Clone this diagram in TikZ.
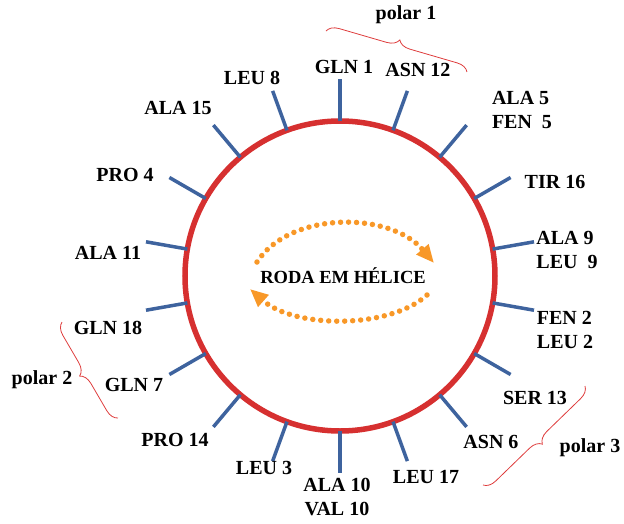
\documentclass[tikz,border=0pt]{standalone}
\usepackage{fontspec}
\setmainfont{Liberation Serif}
\usetikzlibrary{arrows.meta,decorations.pathreplacing}

\definecolor{wheelred}{RGB}{214,48,48}
\definecolor{tickblue}{RGB}{62,99,158}
\definecolor{dotorange}{RGB}{248,152,40}
\definecolor{bracered}{RGB}{222,60,60}

\tikzset{
  tick/.style={draw=tickblue, line width=3.5pt},
  dotarc/.style={draw=dotorange, line width=5.5pt, line cap=round,
    dash pattern=on 0pt off 8pt, -{Triangle[length=18pt,width=15pt]}},
  polarbrace/.style={draw=bracered, line width=0.8pt,
    decorate, decoration={brace, amplitude=12pt}}
}

\begin{document}
\begin{tikzpicture}[x=1pt, y=1pt, every node/.style={font=\bfseries\fontsize{20}{24}\selectfont}]
    \useasboundingbox (-340,-247) rectangle (284,276);
    % the wheel
    \node[draw=wheelred, line width=5.5pt, circle, minimum size=310pt, inner sep=0pt, outer sep=0pt] (wheel) at (0,0) {};
    \foreach \a in {10,30,...,350} {
        \coordinate (o\a) at (\a:197);
        \draw[tick] (wheel.\a) -- (o\a);
    }
    % residues
    \node (gln1) at (4,209) {GLN 1};
    \node (asn12) at (78,206) {ASN 12};
    \node[align=left] (ala5) at (182,166) {ALA 5\\FEN\ \ 5};
    \node (tir16) at (215,94) {TIR 16};
    \node[align=left] (ala9) at (227,26) {ALA 9\\LEU\ \ 9};
    \node[align=left] (fen2) at (225,-54) {FEN 2\\LEU 2};
    \node (ser13) at (195,-122) {SER 13};
    \node (asn6) at (151,-166) {ASN 6};
    \node (leu17) at (86,-201) {LEU 17};
    \node[align=center] (ala10) at (-3,-221) {ALA 10\\VAL 10};
    \node (leu3) at (-76,-192) {LEU 3};
    \node (pro14) at (-165,-164) {PRO 14};
    \node (gln7) at (-206,-109) {GLN 7};
    \node (gln18) at (-232,-52) {GLN 18};
    \node (ala11) at (-232,23) {ALA 11};
    \node (pro4) at (-215,101) {PRO 4};
    \node (ala15) at (-162,168) {ALA 15};
    \node (leu8) at (-88,198) {LEU 8};
    % centre
    \node[font=\bfseries\fontsize{18.5}{20}\selectfont] (title) at (3,0) {RODA EM HÉLICE};
    \coordinate (ua) at (-83,14);
    \coordinate (ub) at (94,13);
    \coordinate (la) at (87,-19);
    \coordinate (lb) at (-90,-13);
    \draw[dotarc] (ua) .. controls (-50,65) and (50,65) .. (ub);
    \draw[dotarc] (la) .. controls (50,-53) and (-45,-53) .. (lb);
    % polar groups
    \node (polar1) at (66,261) {polar 1};
    \node (polar2) at (-298,-104) {polar 2};
    \node (polar3) at (250,-172) {polar 3};
    \coordinate (b1a) at (-14,245);
    \coordinate (b1b) at (127,204);
    \coordinate (b2a) at (-222,-142);
    \coordinate (b2b) at (-278,-46);
    \coordinate (b3a) at (245,-110);
    \coordinate (b3b) at (143,-209);
    \draw[polarbrace] (b1a) -- (b1b);
    \draw[polarbrace] (b2a) -- (b2b);
    \draw[polarbrace] (b3a) -- (b3b);
\end{tikzpicture}
\end{document}
